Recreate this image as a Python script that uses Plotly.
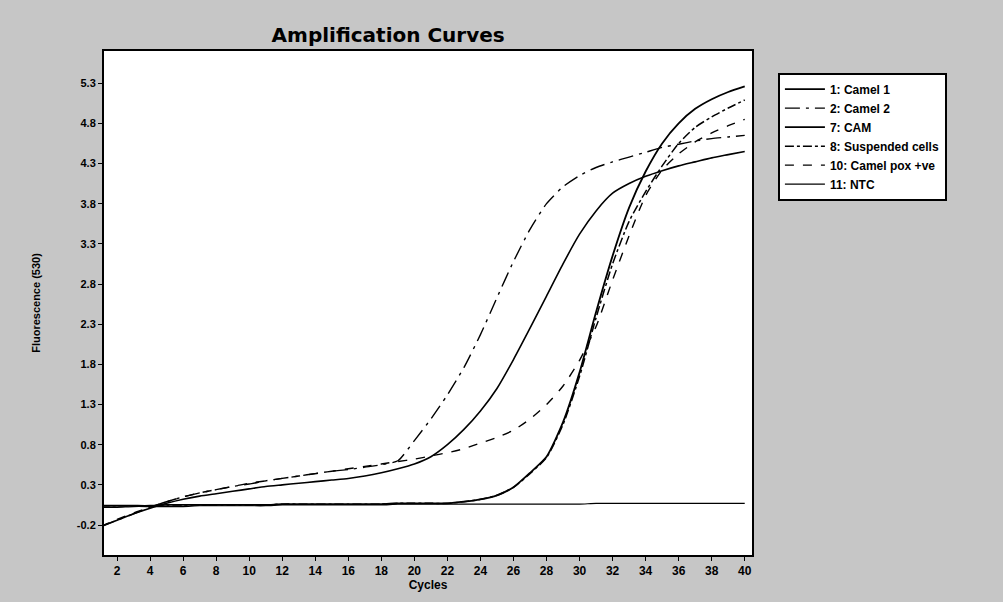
import plotly.graph_objects as go

cycles = list(range(1, 41))

camel_1 = [-0.22, -0.14, -0.06, 0.01, 0.07, 0.12, 0.16, 0.19, 0.22, 0.25,
           0.28, 0.30, 0.32, 0.34, 0.36, 0.38, 0.41, 0.45, 0.50, 0.56,
           0.65, 0.80, 0.99, 1.22, 1.50, 1.86, 2.25, 2.65, 3.05, 3.42,
           3.71, 3.93, 4.05, 4.14, 4.21, 4.27, 4.32, 4.37, 4.41, 4.45]

camel_2 = [-0.22, -0.14, -0.06, 0.02, 0.09, 0.15, 0.20, 0.24, 0.28, 0.31,
           0.35, 0.38, 0.41, 0.44, 0.47, 0.49, 0.52, 0.55, 0.60, 0.85,
           1.12, 1.42, 1.76, 2.17, 2.63, 3.08, 3.48, 3.80, 4.01, 4.15,
           4.25, 4.32, 4.38, 4.44, 4.50, 4.54, 4.58, 4.61, 4.63, 4.65]

cam = [0.04, 0.04, 0.04, 0.04, 0.05, 0.05, 0.05, 0.05, 0.05, 0.05,
       0.05, 0.06, 0.06, 0.06, 0.06, 0.06, 0.06, 0.06, 0.07, 0.07,
       0.07, 0.07, 0.09, 0.12, 0.17, 0.27, 0.45, 0.65, 1.08, 1.70,
       2.45, 3.15, 3.75, 4.20, 4.55, 4.80, 4.98, 5.10, 5.19, 5.26]

suspended_cells = [0.04, 0.04, 0.04, 0.04, 0.05, 0.05, 0.05, 0.05, 0.05, 0.05,
                   0.05, 0.06, 0.06, 0.06, 0.06, 0.06, 0.06, 0.06, 0.07, 0.07,
                   0.07, 0.07, 0.09, 0.12, 0.17, 0.27, 0.44, 0.64, 1.05, 1.65,
                   2.38, 3.05, 3.58, 3.95, 4.27, 4.55, 4.75, 4.88, 4.99, 5.09]

camel_pox = [-0.22, -0.13, -0.05, 0.02, 0.09, 0.15, 0.20, 0.24, 0.28, 0.32,
             0.35, 0.38, 0.41, 0.44, 0.47, 0.50, 0.53, 0.56, 0.59, 0.62,
             0.66, 0.70, 0.75, 0.82, 0.89, 0.98, 1.12, 1.30, 1.53, 1.85,
             2.27, 2.85, 3.40, 3.90, 4.22, 4.42, 4.57, 4.68, 4.77, 4.85]

ntc = [0.02, 0.02, 0.03, 0.03, 0.03, 0.03, 0.04, 0.04, 0.04, 0.04,
       0.04, 0.05, 0.05, 0.05, 0.05, 0.05, 0.05, 0.05, 0.06, 0.06,
       0.06, 0.06, 0.06, 0.06, 0.06, 0.06, 0.06, 0.06, 0.06, 0.06,
       0.07, 0.07, 0.07, 0.07, 0.07, 0.07, 0.07, 0.07, 0.07, 0.07]

series_names = ["1: Camel 1", "2: Camel 2", "7: CAM", "8: Suspended cells",
                "10: Camel pox +ve", "11: NTC"]
series_values = [camel_1, camel_2, cam, suspended_cells, camel_pox, ntc]
series_dash = ["solid", "longdashdot", "solid", "dashdot", "dash", "solid"]
series_width = [1.6, 1.4, 1.8, 1.5, 1.4, 1.2]

x_ticks = list(range(2, 41, 2))
y_ticks = [-0.2, 0.3, 0.8, 1.3, 1.8, 2.3, 2.8, 3.3, 3.8, 4.3, 4.8, 5.3]
y_tick_labels = ["-0.2", "0.3", "0.8", "1.3", "1.8", "2.3", "2.8", "3.3",
                 "3.8", "4.3", "4.8", "5.3"]

BG = "#c6c6c6"

fig = go.Figure()
for name, vals, dash, w in zip(series_names, series_values, series_dash, series_width):
    fig.add_trace(go.Scatter(
        x=cycles, y=vals, mode="lines", name=name,
        line=dict(color="black", width=w, dash=dash, shape="spline", smoothing=0.6),
    ))

fig.update_layout(
    width=1003, height=602,
    paper_bgcolor=BG,
    plot_bgcolor="white",
    margin=dict(l=104, r=251, t=51, b=47),
    title=dict(
        text="<b>Amplification Curves</b>",
        x=0.387, xanchor="center", y=0.942, yanchor="middle",
        font=dict(family="DejaVu Sans", size=20, color="black"),
    ),
    font=dict(family="Liberation Sans", color="black"),
    showlegend=True,
    legend=dict(
        x=1.04, xanchor="left", y=0.957, yanchor="top",
        bgcolor="white", bordercolor="black", borderwidth=2,
        font=dict(family="Liberation Sans", size=12, color="black", weight="bold"),
        tracegroupgap=0, itemwidth=40,
    ),
    xaxis=dict(
        range=[1.21, 40.44], tickvals=x_ticks, ticks="outside", ticklen=4,
        tickcolor="black", showgrid=False, zeroline=False,
        showline=True, linecolor="black", linewidth=2, mirror=True,
        tickfont=dict(family="Liberation Sans", size=12, color="black", weight="bold"),
        title=dict(text="Cycles", standoff=0,
                   font=dict(family="Liberation Sans", size=12, color="black", weight="bold")),
    ),
    yaxis=dict(
        range=[-0.573, 5.70], tickvals=y_ticks, ticktext=y_tick_labels,
        ticks="outside", ticklen=4, tickcolor="black",
        showgrid=False, zeroline=False,
        showline=True, linecolor="black", linewidth=2, mirror=True,
        tickfont=dict(family="Liberation Sans", size=11, color="black", weight="bold"),
        title=dict(text="Fluorescence (530)", standoff=34,
                   font=dict(family="Liberation Sans", size=11, color="black", weight="bold")),
    ),
)

fig.write_html(
    "out.html",
    config={"displayModeBar": False},
    post_script="document.body.style.margin='0';document.body.style.background='" + BG + "';",
)
